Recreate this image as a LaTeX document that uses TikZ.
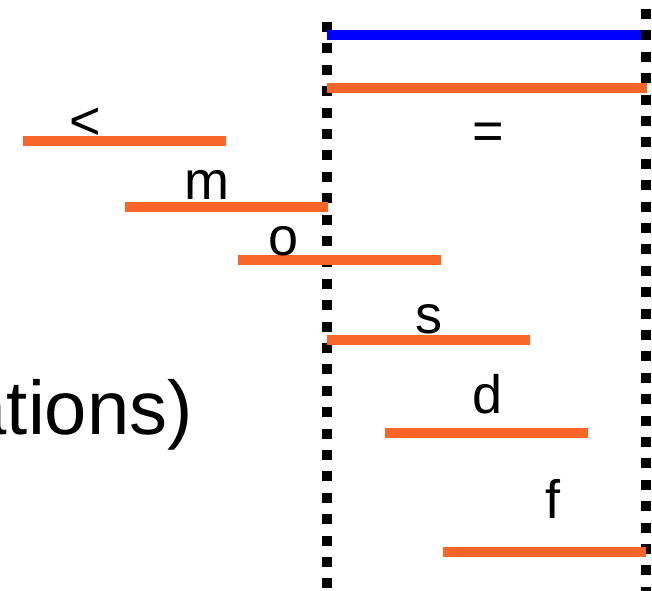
\documentclass[tikz,border=0pt]{standalone}
\usepackage{fontspec}
\setmainfont{Liberation Sans}
\definecolor{bar}{RGB}{249,100,40}
\begin{document}
\begin{tikzpicture}[x=1pt,y=-1pt,
  interval/.style={line width=10pt,color=bar},
  refbar/.style={line width=10pt,color=blue},
  bound/.style={line width=10pt,black,dash pattern=on 10pt off 11.4pt},
  lbl/.style={inner sep=0pt,anchor=base,font=\fontsize{54}{60}\selectfont}]
\useasboundingbox (0,0) rectangle (652,590);
% boundaries
\coordinate (l1) at (327,22); \coordinate (l2) at (327,595);
\coordinate (r1) at (646,9);  \coordinate (r2) at (646,595);
\draw[bound] (l1) -- (l2);
\draw[bound] (r1) -- (r2);
% reference interval
\draw[refbar] (327,35) -- (641,35);
% relations
\draw[interval] (327,88) -- (647,88);
\node[lbl] (eq) at (488,149) {=};
\draw[interval] (23,141) -- (226,141);
\node[lbl] (lt) at (85,139) {<};
\draw[interval] (125,207) -- (328,207);
\node[lbl] (m) at (207,199) {m};
\draw[interval] (238,260) -- (441,260);
\node[lbl] (o) at (284,255) {o};
\draw[interval] (327,340) -- (530,340);
\node[lbl] (s) at (429,333) {s};
\draw[interval] (385,433) -- (588,433);
\node[lbl] (d) at (488,413) {d};
\draw[interval] (443,552) -- (646,552);
\node[lbl] (f) at (553,518) {f};
\node[inner sep=0pt,anchor=base east,font=\fontsize{76}{80}\selectfont] (txt) at (193,434) {ations)};
\end{tikzpicture}
\end{document}
